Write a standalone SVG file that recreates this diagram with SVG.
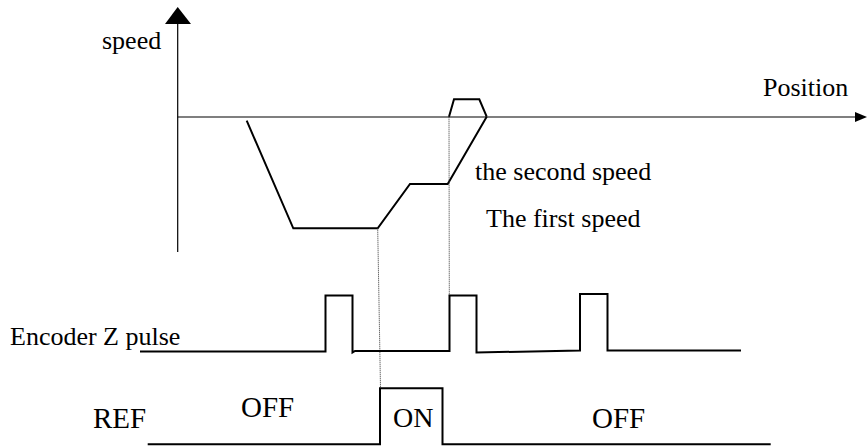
<svg xmlns="http://www.w3.org/2000/svg" width="867" height="446" viewBox="0 0 867 446">
<style>
.axis{stroke:#000;stroke-width:1.2;fill:none}
.wave{stroke:#000;stroke-width:2;fill:none;stroke-linejoin:miter}
.dot{stroke:#333;stroke-width:1;stroke-dasharray:1 1;fill:none}
text{font-family:'Liberation Serif','Times New Roman',serif;fill:#000}
</style>
<rect width="867" height="446" fill="#fff"/>
<g id="axes">
<line class="axis" x1="177.7" y1="20" x2="177.7" y2="252"/>
<polygon points="165,24 191,24 177.7,7" fill="#000"/>
<line class="axis" x1="177.7" y1="117" x2="856" y2="117"/>
<polygon points="855,112 867,117 855,122" fill="#000"/>
</g>
<g id="speed-profile">
<polyline class="wave" points="246.7,120.7 293.3,228.3 377.7,228.3 410,184 447.7,184 486.7,116.7"/>
<polyline class="wave" points="449,116.7 454,99.3 479.3,99.3 486.7,116.7"/>
</g>
<g id="guides">
<line class="dot" x1="377.7" y1="228.3" x2="380.5" y2="388.3"/>
<line class="dot" x1="449" y1="116.7" x2="449.3" y2="295.5"/>
</g>
<g id="encoder">
<polyline class="wave" points="140,351.5 325.5,351.5 325.5,295.5 352.5,295.5 352.5,352.5 355,351 449.5,351 449.5,295.5 476.5,295.5 476.5,352.5 580,350.5 580,294 607.5,294 607.5,350.5 741,350.5"/>
</g>
<g id="ref">
<polyline class="wave" points="147.7,444.3 380,444.3 380,388.3 442.5,388.3 442.5,444.3 770.7,444.3"/>
</g>
<g id="labels" font-family="Liberation Serif, Times New Roman, serif">
<text font-size="26" x="102" y="49">speed</text>
<text font-size="26" x="763" y="96">Position</text>
<text font-size="26" x="475" y="180">the second speed</text>
<text font-size="26" x="486" y="227">The first speed</text>
<text font-size="26" x="10" y="345">Encoder Z pulse</text>
<text font-size="29" x="93" y="428">REF</text>
<text font-size="29" x="241" y="417">OFF</text>
<text font-size="28" x="393" y="427">ON</text>
<text font-size="29" x="592" y="428">OFF</text>
</g>
</svg>
